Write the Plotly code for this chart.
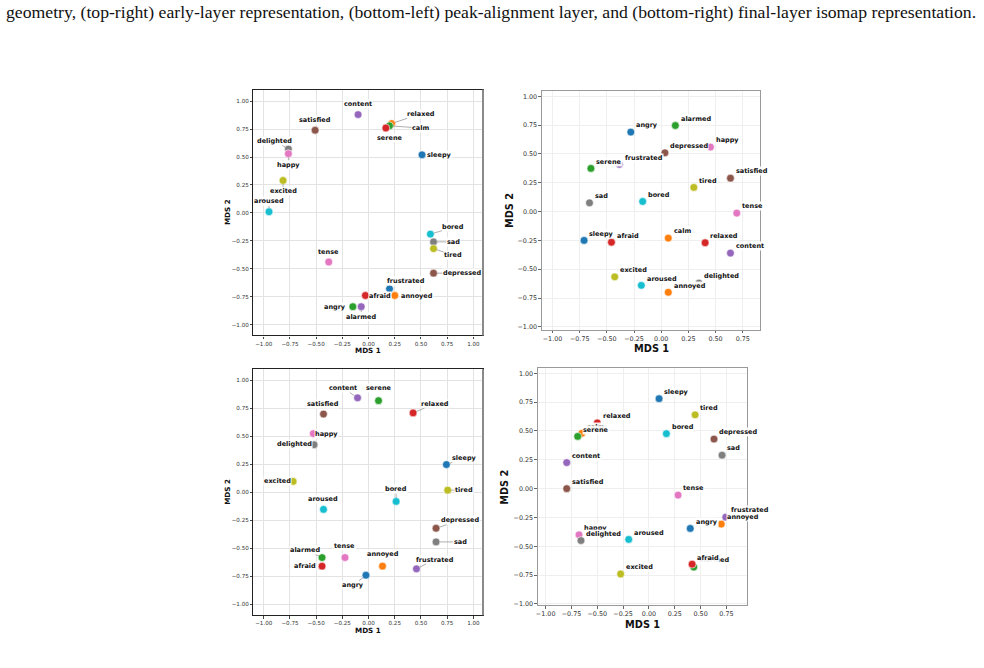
import plotly.graph_objects as go

# ---------------- data ----------------
CAPTION = ("geometry, (top-right) early-layer representation, (bottom-left) peak-alignment layer, "
           "and (bottom-right) final-layer isomap representation.")

TICK_VALS = [-1.0, -0.75, -0.5, -0.25, 0.0, 0.25, 0.5, 0.75, 1.0]
TICK_TEXT = ["\u22121.00", "\u22120.75", "\u22120.50", "\u22120.25", "0.00", "0.25", "0.50", "0.75", "1.00"]
TICK_VALS_R = [-1.0, -0.75, -0.5, -0.25, 0.0, 0.25, 0.5, 0.75]
TICK_TEXT_R = ["\u22121.00", "\u22120.75", "\u22120.50", "\u22120.25", "0.00", "0.25", "0.50", "0.75"]

BLUE, ORANGE, GREEN, RED, PURPLE = "#1f77b4", "#ff7f0e", "#2ca02c", "#d62728", "#9467bd"
BROWN, PINK, GRAY, OLIVE, CYAN = "#8c564b", "#e377c2", "#7f7f7f", "#bcbd22", "#17becf"

EMO_COLOR = {
    "angry": BLUE, "sleepy": BLUE, "annoyed": ORANGE, "calm": ORANGE,
    "alarmed": GREEN, "serene": GREEN, "afraid": RED, "relaxed": RED,
    "frustrated": PURPLE, "content": PURPLE, "depressed": BROWN, "satisfied": BROWN,
    "happy": PINK, "tense": PINK, "delighted": GRAY, "sad": GRAY,
    "excited": OLIVE, "tired": OLIVE, "aroused": CYAN, "bored": CYAN,
}
EMO_COLOR_TL = dict(EMO_COLOR, frustrated=BLUE, relaxed=ORANGE, angry=GREEN, calm=GREEN,
                    serene=RED, alarmed=PURPLE)

# top-left: initial geometry
TL_NAMES = ["relaxed", "calm", "serene", "content", "satisfied", "sleepy", "delighted", "happy",
            "excited", "aroused", "bored", "sad", "tired", "depressed", "tense", "frustrated",
            "afraid", "annoyed", "angry", "alarmed"]
TL_X = [0.22, 0.20, 0.165, -0.10, -0.51, 0.51, -0.765, -0.765, -0.816, -0.95, 0.59, 0.62, 0.62,
        0.62, -0.38, 0.20, -0.03, 0.25, -0.15, -0.07]
TL_Y = [0.80, 0.78, 0.76, 0.88, 0.74, 0.52, 0.572, 0.53, 0.29, 0.01, -0.19, -0.26, -0.32, -0.54,
        -0.44, -0.68, -0.74, -0.74, -0.84, -0.84]

# top-right: early layer
TR_NAMES = ["angry", "annoyed", "alarmed", "relaxed", "frustrated", "depressed", "happy", "delighted",
            "excited", "aroused", "sleepy", "calm", "serene", "afraid", "content", "satisfied",
            "tense", "sad", "tired", "bored"]
TR_X = [-0.28, 0.065, 0.13, 0.404, -0.385, 0.034, 0.453, 0.347, -0.428, -0.183, -0.71, 0.065,
        -0.647, -0.458, 0.637, 0.637, 0.695, -0.66, 0.30, -0.171]
TR_Y = [0.69, -0.70, 0.747, -0.27, 0.41, 0.51, 0.56, -0.62, -0.566, -0.64, -0.25, -0.23, 0.375,
        -0.266, -0.36, 0.29, -0.013, 0.076, 0.21, 0.088]

# bottom-left: peak-alignment layer
BL_NAMES = ["angry", "annoyed", "alarmed", "relaxed", "frustrated", "depressed", "happy", "delighted",
            "excited", "aroused", "sleepy", "serene", "afraid", "content", "satisfied", "tense",
            "sad", "tired", "bored"]
BL_X = [-0.025, 0.133, -0.444, 0.425, 0.457, 0.644, -0.527, -0.52, -0.72, -0.43, 0.743, 0.095,
        -0.444, -0.105, -0.43, -0.225, 0.644, 0.755, 0.263]
BL_Y = [-0.742, -0.661, -0.584, 0.71, -0.685, -0.322, 0.525, 0.425, 0.097, -0.153, 0.248, 0.82,
        -0.661, 0.845, 0.70, -0.584, -0.444, 0.019, -0.082]

# bottom-right: final-layer isomap
BR_NAMES = ["angry", "annoyed", "alarmed", "relaxed", "frustrated", "depressed", "happy", "delighted",
            "excited", "aroused", "sleepy", "calm", "serene", "afraid", "content", "satisfied",
            "tense", "sad", "tired", "bored"]
BR_X = [0.40, 0.70, 0.434, -0.50, 0.744, 0.63, -0.677, -0.658, -0.274, -0.196, 0.098, -0.65,
        -0.69, 0.418, -0.796, -0.796, 0.282, 0.708, 0.447, 0.169]
BR_Y = [-0.345, -0.307, -0.68, 0.57, -0.247, 0.43, -0.40, -0.45, -0.74, -0.44, 0.78, 0.48,
        0.453, -0.655, 0.226, 0.0, -0.056, 0.29, 0.64, 0.477]

# label placement (pixel offsets of label centre from point; leader-line flag)
TL_LABEL_DX = [29, 31, 3.7, 0, 0, 17, -13.7, 0, 0, 0, 23, 19.7, 19.7, 28.3, 0, 16.7, 14.3, 22, -18.3, 0]
TL_LABEL_DY = [-9.7, 2.3, 10, -10.7, -10.7, 0, -8, 11, 11, -10.3, -6.7, 0, 6.7, 0, -10.3, -8.3, 0.7, 0, 0, 10]
TL_LEADER = [1, 1, 0, 0, 0, 0, 1, 1, 1, 1, 1, 1, 1, 1, 0, 0, 0, 0, 0, 1]

BL_LABEL_DX = [-12.7, 0, -16.7, 22, 18.3, 24, 13.3, -20, -15.7, 0, 18, 0, -16.7, -14.3, 0, 0, 24, 16.7, 0]
BL_LABEL_DY = [10, -12, -7.3, -9.3, -9.3, -8, 0, -0.7, -0.3, -10.3, -6.7, -12.3, 0, -9.7, -10.3, -11.3, 0, 0, -12.3]
BL_LEADER = [1, 0, 1, 1, 1, 1, 0, 0, 0, 0, 1, 0, 0, 1, 0, 0, 1, 1, 1]

# ---------------- figure ----------------
W, H = 984, 668
fig = go.Figure()

PANELS = [
    dict(n="", box=(252, 482, 90, 337), xr=[-1.098, 1.092], yr=[-1.098, 1.104], style="a",
         names=TL_NAMES, xs=TL_X, ys=TL_Y, cmap=EMO_COLOR_TL,
         lab=(TL_LABEL_DX, TL_LABEL_DY, TL_LEADER)),
    dict(n="2", box=(541, 760, 91, 331), xr=[-1.098, 0.913], yr=[-1.023, 1.05], style="b",
         names=TR_NAMES, xs=TR_X, ys=TR_Y, cmap=EMO_COLOR, lab=None),
    dict(n="3", box=(252, 482, 371, 618), xr=[-1.098, 1.092], yr=[-1.10, 1.10], style="a",
         names=BL_NAMES, xs=BL_X, ys=BL_Y, cmap=EMO_COLOR,
         lab=(BL_LABEL_DX, BL_LABEL_DY, BL_LEADER)),
    dict(n="4", box=(537, 747, 370, 608), xr=[-1.075, 0.954], yr=[-1.011, 1.043], style="b",
         names=BR_NAMES, xs=BR_X, ys=BR_Y, cmap=EMO_COLOR, lab=None),
]

FONT = "DejaVu Sans"
annotations = []
shapes = []
layout_axes = {}

for p in PANELS:
    n = p["n"]
    x0, x1, y0, y1 = p["box"]
    a = p["style"] == "a"
    xd = [x0 / W, x1 / W]
    yd = [1 - y1 / H, 1 - y0 / H]
    tv, tt = (TICK_VALS, TICK_TEXT) if a else (TICK_VALS_R, TICK_TEXT_R)
    common = dict(
        showgrid=True, gridcolor="#e3e3e3" if a else "#efefef", gridwidth=0.8, zeroline=False,
        showline=True, mirror=True, linecolor="#222" if a else "#999", linewidth=1.1 if a else 1,
        ticks="outside", ticklen=2.5, tickwidth=0.8, tickcolor="#444" if a else "#666",
        tickfont=dict(family=FONT, size=5.6 if a else 6.4, color="#333"),
        fixedrange=True,
    )
    layout_axes["xaxis" + n] = dict(common, domain=xd, range=p["xr"], anchor="y" + n,
                                    tickvals=tv, ticktext=tt)
    layout_axes["yaxis" + n] = dict(common, domain=yd, range=p["yr"], anchor="x" + n,
                                    tickvals=TICK_VALS, ticktext=TICK_TEXT)
    if a:
        # the right spine of these panels reads as a heavier grey edge
        shapes.append(dict(type="line", xref="x%s domain" % n, yref="y%s domain" % n,
                           x0=1, x1=1, y0=0, y1=1, line=dict(color="#8a8a8a", width=2)))

    colors = [p["cmap"][e] for e in p["names"]]
    fig.add_trace(go.Scatter(
        x=p["xs"], y=p["ys"], mode="markers", xaxis="x" + n, yaxis="y" + n,
        marker=dict(size=7.8, color=colors, line=dict(color="white", width=0.6)),
        hoverinfo="skip", showlegend=False,
    ))

    lf = dict(family=FONT, size=6.5, color="#111")
    for i, name in enumerate(p["names"]):
        if a:
            dx, dy, ld = p["lab"][0][i], p["lab"][1][i], p["lab"][2][i]
            annotations.append(dict(
                x=p["xs"][i], y=p["ys"][i], xref="x" + n, yref="y" + n,
                text="<b>%s</b>" % name, font=lf, showarrow=True, ax=dx, ay=dy,
                arrowhead=0, arrowwidth=0.8, standoff=3.5,
                arrowcolor="#9a9a9a" if ld else "rgba(0,0,0,0)",
                bgcolor="rgba(255,255,255,0.9)", borderpad=0,
            ))
        else:
            annotations.append(dict(
                x=p["xs"][i], y=p["ys"][i], xref="x" + n, yref="y" + n,
                text="<b>%s</b>" % name, font=lf, showarrow=False,
                xanchor="left", yanchor="middle", xshift=4.3, yshift=6.7,
                bgcolor="rgba(255,255,255,0.92)", borderpad=0,
            ))

    # axis titles
    tsize = 7.2 if a else 9.8
    annotations.append(dict(
        text="<b>MDS 1</b>", xref="x%s domain" % n, yref="paper", x=0.5,
        y=1 - ((y1 + (15 if a else 19.5)) / H), xanchor="center", yanchor="middle",
        showarrow=False, font=dict(family=FONT, size=tsize, color="#111"),
    ))
    annotations.append(dict(
        text="<b>MDS 2</b>", xref="paper", yref="y%s domain" % n,
        x=(x0 - (26 if a else 33)) / W, y=0.5, xanchor="center", yanchor="middle",
        textangle=-90, showarrow=False, font=dict(family=FONT, size=tsize, color="#111"),
    ))

annotations.append(dict(
    text=CAPTION, xref="paper", yref="paper", x=2 / W, y=1 - 12 / H,
    xanchor="left", yanchor="middle", showarrow=False,
    font=dict(family="Liberation Serif", size=17.7, color="#111"),
))

fig.update_layout(
    width=W, height=H, margin=dict(l=0, r=0, t=0, b=0),
    paper_bgcolor="white", plot_bgcolor="white",
    annotations=annotations, shapes=shapes, **layout_axes,
)

fig.write_html("out.html")
